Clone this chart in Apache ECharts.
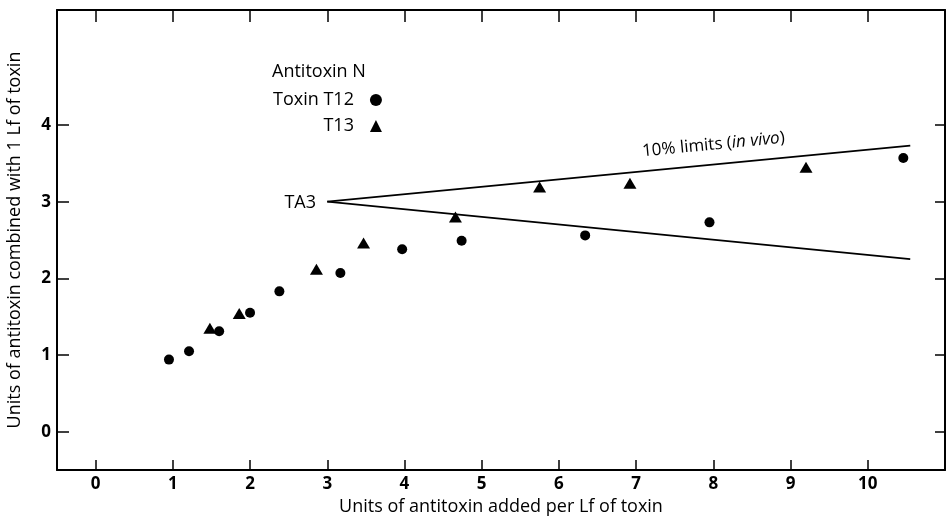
<!DOCTYPE html>
<html>
<head>
<meta charset="utf-8">
<script src="https://cdn.jsdelivr.net/npm/echarts@6/dist/echarts.min.js"></script>
<style>
  html, body { margin: 0; padding: 0; background: #fff; }
  #chart { width: 949px; height: 518px; }
</style>
</head>
<body>
<div id="chart"></div>
<script>
var chart = echarts.init(document.getElementById('chart'));

// Toxin T12 (circles)
var t12 = [
    [0.95, 0.94], [1.21, 1.05], [1.60, 1.31], [2.00, 1.55], [2.38, 1.83],
    [3.17, 2.07], [3.97, 2.38], [4.74, 2.49], [6.34, 2.56], [7.95, 2.73],
    [10.46, 3.57]
];
// Toxin T13 (triangles)
var t13 = [
    [1.48, 1.35], [1.86, 1.54], [2.86, 2.12], [3.47, 2.46], [4.66, 2.80],
    [5.75, 3.19], [6.92, 3.24], [9.20, 3.45]
];
// 10% limits from TA3
var upperLimit = [[3, 3], [10.55, 3.73]];
var lowerLimit = [[3, 3], [10.55, 2.25]];

var xTicks = [0, 1, 2, 3, 4, 5, 6, 7, 8, 9, 10];
var yTicks = [0, 1, 2, 3, 4];

var font = 'Open Sans';
var axisLine = {show: true, onZero: false, lineStyle: {color: '#000', width: 2}};
var tickStyle = {color: '#000', width: 1.5};
var labelStyle = {fontFamily: font, fontSize: 17, fontWeight: 'bold', color: '#000'};

var option = {
    backgroundColor: '#fff',
    animation: false,
    textStyle: {fontFamily: font, color: '#000'},
    grid: {left: 57, top: 10, right: 4, bottom: 48, outerBoundsMode: 'none'},
    title: {
        text: 'Antitoxin N',
        left: 267, top: 58,
        textStyle: {fontFamily: font, fontSize: 18, fontWeight: 'normal', color: '#000'}
    },
    legend: {
        orient: 'vertical',
        left: 268, top: 86,
        align: 'right',
        itemWidth: 12, itemHeight: 12,
        itemGap: 8,
        data: ['Toxin T12', 'T13'],
        textStyle: {fontFamily: font, fontSize: 18, color: '#000', padding: [0, 11, 0, 0]}
    },
    xAxis: [{
        type: 'value', position: 'bottom',
        min: -0.5, max: 11,
        name: 'Units of antitoxin added per Lf of toxin',
        nameLocation: 'middle', nameGap: 27,
        nameTextStyle: {fontFamily: font, fontSize: 18, color: '#000'},
        axisLine: axisLine,
        axisTick: {inside: true, length: 10, customValues: xTicks, lineStyle: tickStyle},
        axisLabel: Object.assign({customValues: xTicks, margin: 6}, labelStyle),
        splitLine: {show: false}
    }, {
        type: 'value', position: 'top',
        min: -0.5, max: 11,
        axisLine: axisLine,
        axisTick: {inside: true, length: 12, customValues: xTicks, lineStyle: tickStyle},
        axisLabel: {show: false},
        splitLine: {show: false}
    }],
    yAxis: [{
        type: 'value', position: 'left',
        min: -0.5, max: 5.5,
        name: 'Units of antitoxin combined with 1 Lf of toxin',
        nameLocation: 'middle', nameGap: 33,
        nameTextStyle: {fontFamily: font, fontSize: 18, color: '#000'},
        axisLine: axisLine,
        axisTick: {inside: true, length: 12, customValues: yTicks, lineStyle: tickStyle},
        axisLabel: Object.assign({customValues: yTicks, margin: 6}, labelStyle),
        splitLine: {show: false}
    }, {
        type: 'value', position: 'right',
        min: -0.5, max: 5.5,
        axisLine: axisLine,
        axisTick: {inside: true, length: 10, customValues: yTicks, lineStyle: tickStyle},
        axisLabel: {show: false},
        splitLine: {show: false}
    }],
    series: [{
        name: 'upper',
        type: 'line',
        data: upperLimit,
        symbol: 'none',
        lineStyle: {color: '#000', width: 1.8},
        silent: true
    }, {
        name: 'lower',
        type: 'line',
        data: lowerLimit,
        symbol: 'none',
        lineStyle: {color: '#000', width: 1.8},
        silent: true
    }, {
        name: 'Toxin T12',
        type: 'scatter',
        data: t12,
        symbol: 'circle',
        symbolSize: 10,
        itemStyle: {color: '#000', opacity: 1}
    }, {
        name: 'T13',
        type: 'scatter',
        data: t13,
        symbol: 'triangle',
        symbolSize: [13, 11],
        itemStyle: {color: '#000', opacity: 1}
    }],
    graphic: [{
        type: 'text',
        right: 949 - 316, top: 194,
        style: {text: 'TA3', fontFamily: font, fontSize: 18, fill: '#000'}
    }, {
        type: 'text',
        x: 643, y: 160,
        rotation: 5.5 * Math.PI / 180,
        style: {
            text: '10% limits ({i|in vivo})',
            fontFamily: font, fontSize: 17, fill: '#000',
            textVerticalAlign: 'bottom',
            rich: {i: {fontFamily: font, fontSize: 17, fontStyle: 'italic', fill: '#000'}}
        }
    }]
};

chart.setOption(option);
</script>
</body>
</html>
